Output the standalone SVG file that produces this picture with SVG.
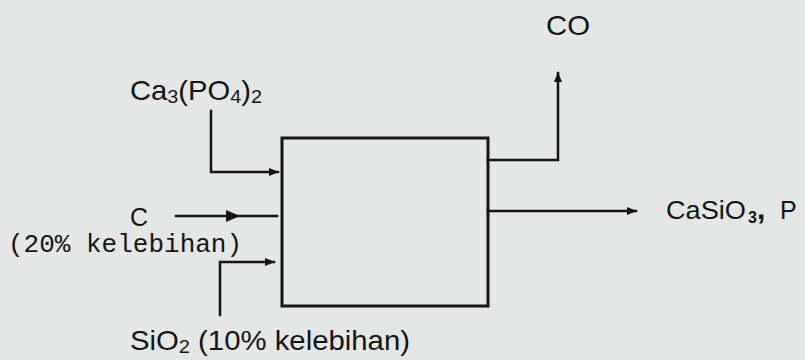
<svg xmlns="http://www.w3.org/2000/svg" width="805" height="360" viewBox="0 0 805 360">
<defs>
<style>
.ln{fill:none;stroke:#141414;stroke-width:2.5;stroke-linecap:square}
.box{fill:none;stroke:#141414;stroke-width:3}
.t{font-family:"Liberation Sans",Arial,sans-serif;fill:#141414}
.m{font-family:"Liberation Mono","Courier New",monospace;fill:#141414}
</style>
<marker id="ah" viewBox="0 0 10 10" refX="9" refY="5" markerWidth="4" markerHeight="4" orient="auto" markerUnits="strokeWidth">
<path d="M0,1 L10,5 L0,9 z" fill="#141414"/>
</marker>
</defs>
<rect width="805" height="360" fill="#e5e7e6"/>
<g id="reactor">
<rect class="box" x="282" y="138" width="206" height="168"/>
</g>
<g id="ca3po4">
<text class="t" x="130" y="100" font-size="28" textLength="132" lengthAdjust="spacingAndGlyphs">Ca<tspan font-size="19" dy="3">3</tspan><tspan dy="-3">(PO</tspan><tspan font-size="19" dy="3">4</tspan><tspan dy="-3">)</tspan><tspan font-size="19" dy="3">2</tspan></text>
</g>
<g id="carbon">
<text class="t" x="130" y="226" font-size="25">C</text>
<text class="m" x="8" y="252" font-size="26">(20% kelebihan)</text>
</g>
<g id="sio2">
<text class="t" x="130" y="350" font-size="28" textLength="280" lengthAdjust="spacingAndGlyphs">SiO<tspan font-size="19" dy="3">2</tspan><tspan dy="-3"> (10% kelebihan)</tspan></text>
</g>
<g id="co">
<text class="t" x="546" y="35" font-size="28" textLength="44" lengthAdjust="spacingAndGlyphs">CO</text>
</g>
<g id="products">
<text class="t" x="666" y="219" font-size="25" textLength="80" lengthAdjust="spacingAndGlyphs">CaSiO</text>
<text class="t" x="748" y="223" font-size="16" font-weight="bold">3</text>
<text class="t" x="757" y="219" font-size="30" font-weight="bold">,</text>
<text class="t" x="780" y="219" font-size="25">P</text>
</g>
<g id="connectors">
<polyline class="ln" points="211,111 211,172 278,172" marker-end="url(#ah)"/>
<line class="ln" x1="176" y1="216" x2="277" y2="216"/>
<path d="M226,210 L240,216 L226,222 z" fill="#141414"/>
<polyline class="ln" points="220,315 220,262 274,262" marker-end="url(#ah)"/>
<polyline class="ln" points="488,160 558,160 558,73" marker-end="url(#ah)"/>
<line class="ln" x1="488" y1="211" x2="636" y2="211" stroke-width="2.2" marker-end="url(#ah)"/>
</g>
</svg>
